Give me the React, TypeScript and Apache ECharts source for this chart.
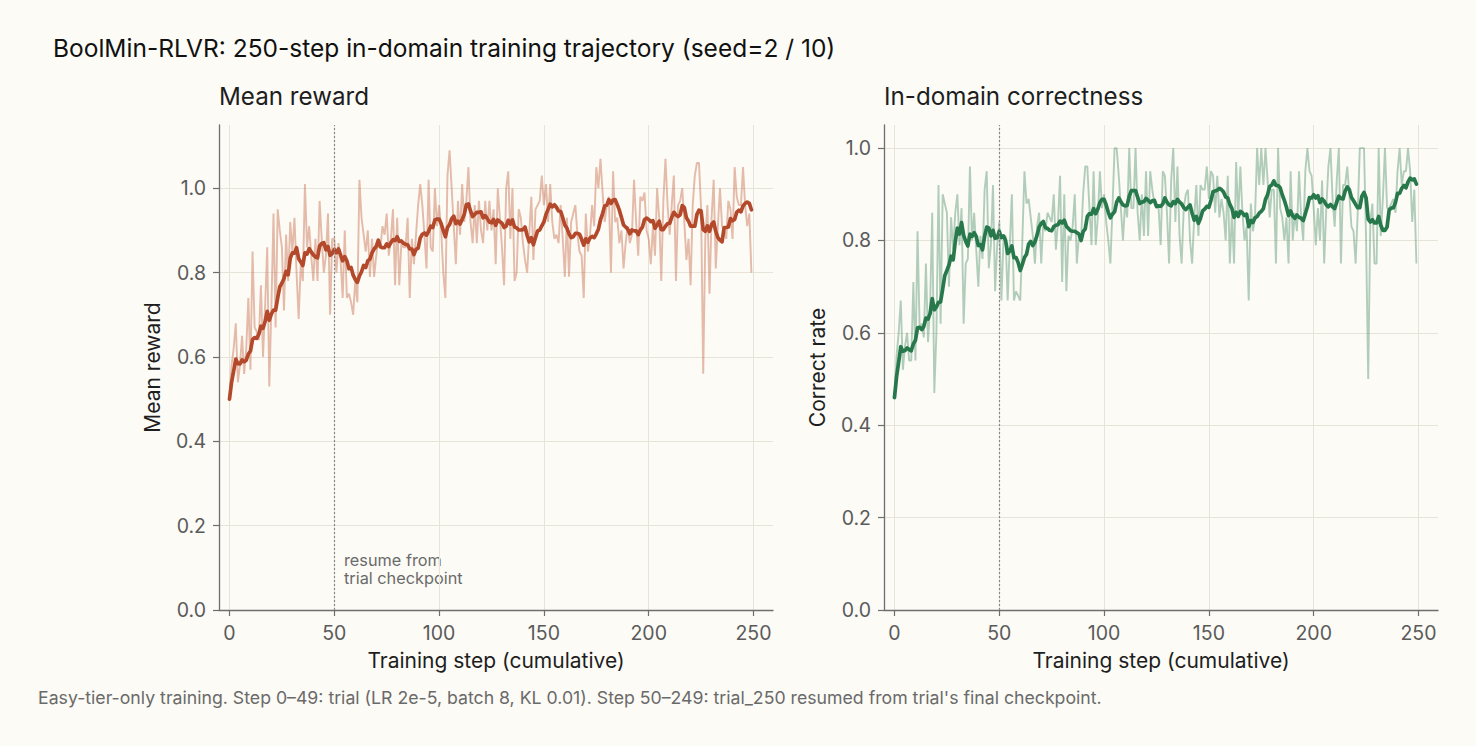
import React, { useEffect, useRef } from "react";
import * as echarts from "echarts";

// Per-step mean reward (raw, before smoothing)
const rewardRaw: number[] = [
  0.50, 0.58, 0.62, 0.68, 0.54, 0.58, 0.65, 0.56, 0.62, 0.74,
  0.57, 0.85, 0.67, 0.66, 0.64, 0.77, 0.60, 0.72, 0.86, 0.53,
  0.72, 0.94, 0.67, 0.95, 0.90, 0.86, 0.71, 0.89, 0.78, 0.92,
  0.85, 0.93, 0.80, 0.69, 0.82, 0.78, 1.01, 0.86, 0.91, 0.84,
  0.78, 0.88, 0.78, 0.97, 0.88, 0.80, 0.84, 0.94, 0.70, 0.88,
  0.88, 0.80, 0.87, 0.83, 0.74, 0.90, 0.74, 0.75, 0.73, 0.70,
  0.78, 0.73, 1.02, 0.93, 0.89, 0.85, 0.90, 0.79, 0.88, 0.79,
  0.84, 0.88, 0.86, 0.91, 0.89, 0.94, 0.84, 0.88, 0.95, 0.77,
  0.93, 0.77, 0.87, 0.86, 0.86, 0.93, 0.74, 0.88, 0.82, 0.89,
  0.96, 1.01, 0.96, 0.89, 0.81, 1.02, 0.86, 0.85, 1.00, 0.91,
  0.96, 0.90, 0.80, 0.74, 1.03, 1.09, 1.00, 0.91, 0.82, 0.97,
  0.89, 1.01, 0.92, 0.97, 1.05, 0.92, 0.87, 0.96, 0.87, 0.97,
  0.90, 0.87, 0.97, 0.90, 0.97, 0.90, 0.95, 0.82, 1.00, 0.93,
  0.86, 0.77, 1.00, 1.04, 0.88, 1.00, 0.78, 0.80, 0.95, 0.93,
  0.87, 0.83, 0.80, 0.89, 0.98, 0.83, 0.95, 0.96, 0.97, 1.03,
  0.96, 1.01, 0.92, 1.01, 0.92, 0.88, 0.89, 0.87, 0.96, 0.88,
  0.79, 0.93, 0.79, 0.92, 0.94, 0.96, 0.89, 0.85, 0.84, 0.74,
  0.94, 0.85, 0.89, 0.96, 0.91, 1.05, 1.00, 1.07, 0.99, 0.92,
  0.96, 0.98, 0.80, 1.04, 0.92, 0.93, 0.87, 0.90, 0.81, 0.87,
  0.91, 0.87, 0.89, 1.02, 0.92, 0.84, 0.98, 0.97, 0.99, 0.90,
  0.88, 0.82, 0.91, 0.84, 1.00, 0.93, 0.78, 0.97, 1.07, 0.96,
  0.89, 0.96, 1.03, 0.78, 0.96, 0.97, 1.00, 0.92, 0.83, 0.88,
  0.77, 0.96, 1.03, 1.06, 1.06, 0.95, 0.56, 0.88, 0.96, 0.75,
  0.93, 1.02, 0.81, 0.91, 1.00, 0.91, 0.90, 0.88, 0.97, 0.95,
  0.88, 1.05, 0.98, 0.96, 0.96, 1.05, 0.96, 0.91, 0.94, 0.80,
];

// Per-step in-domain correct rate (raw, before smoothing)
const correctRaw: number[] = [
  0.46, 0.55, 0.60, 0.67, 0.52, 0.57, 0.60, 0.54, 0.54, 0.71,
  0.54, 0.82, 0.61, 0.62, 0.59, 0.75, 0.58, 0.66, 0.86, 0.47,
  0.60, 0.92, 0.62, 0.90, 0.88, 0.86, 0.70, 0.85, 0.78, 0.86,
  0.90, 0.79, 0.87, 0.62, 0.75, 0.76, 0.96, 0.80, 0.86, 0.78,
  0.70, 0.81, 0.76, 0.91, 0.95, 0.74, 0.79, 0.92, 0.69, 0.79,
  0.84, 0.67, 0.80, 0.81, 0.67, 0.79, 0.90, 0.67, 0.69, 0.68,
  0.67, 0.80, 0.95, 0.88, 0.89, 0.85, 0.81, 0.75, 0.83, 0.86,
  0.75, 0.84, 0.82, 0.86, 0.85, 0.84, 0.90, 0.78, 0.84, 0.94,
  0.71, 0.90, 0.69, 0.81, 0.80, 0.83, 0.90, 0.75, 0.81, 0.80,
  0.90, 0.96, 0.96, 0.87, 0.79, 0.95, 0.79, 0.85, 0.95, 0.87,
  0.90, 0.84, 0.80, 0.75, 0.87, 1.00, 1.00, 0.94, 0.87, 0.80,
  0.88, 0.85, 1.00, 0.87, 0.87, 1.00, 0.86, 0.80, 0.90, 0.81,
  0.95, 0.81, 0.95, 0.91, 0.88, 0.87, 0.87, 0.79, 0.95, 0.94,
  0.86, 0.75, 0.93, 1.00, 0.84, 0.96, 0.81, 0.75, 0.87, 0.90,
  0.91, 0.80, 0.75, 0.85, 0.92, 0.81, 0.92, 0.91, 0.91, 0.96,
  0.89, 0.95, 0.94, 0.86, 0.94, 0.85, 0.89, 0.86, 0.80, 0.94,
  0.75, 0.86, 0.75, 0.97, 0.85, 0.96, 0.86, 0.80, 0.83, 0.67,
  0.88, 0.82, 0.85, 1.00, 0.92, 1.00, 0.92, 1.00, 0.93, 0.85,
  0.91, 0.91, 0.75, 1.00, 0.87, 0.85, 0.80, 0.85, 0.75, 0.95,
  0.80, 0.86, 0.82, 0.95, 0.85, 0.80, 0.95, 1.00, 0.95, 0.94,
  0.87, 0.79, 0.87, 0.80, 0.93, 0.75, 0.87, 0.96, 1.00, 0.89,
  0.83, 0.93, 1.00, 0.75, 0.92, 0.92, 0.96, 0.90, 0.83, 0.82,
  0.75, 0.86, 1.00, 1.00, 1.00, 0.80, 0.50, 0.84, 0.88, 0.75,
  0.75, 1.00, 0.81, 0.89, 1.00, 0.87, 0.87, 0.88, 0.89, 0.86,
  0.95, 1.00, 0.92, 0.95, 0.95, 1.00, 0.95, 0.84, 0.91, 0.75,
];

const xTicks: number[] = [0, 50, 100, 150, 200, 250];
const yTicks: number[] = [0, 0.2, 0.4, 0.6, 0.8, 1.0];
const resumeStep = 50;
const smoothWindow = 10;

const TITLE = "BoolMin-RLVR: 250-step in-domain training trajectory (seed=2 / 10)";
const FOOTNOTE =
  "Easy-tier-only training. Step 0\u201349: trial (LR 2e-5, batch 8, KL 0.01). Step 50\u2013249: trial_250 resumed from trial's final checkpoint.";

const FONT = "Inter, 'Liberation Sans', Arial, sans-serif";
const BG = "#FCFBF6";
const GRID_LINE = "#E7E3D9";
const AXIS = "#6E6E6E";
const TICK_TEXT = "#5A5A5A";

// Trailing rolling mean (partial windows at the start)
function rollingMean(values: number[], win: number): number[] {
  return values.map((_, i) => {
    const start = Math.max(0, i - win + 1);
    let sum = 0;
    for (let k = start; k <= i; k++) sum += values[k];
    return sum / (i - start + 1);
  });
}

function toPairs(values: number[]): [number, number][] {
  return values.map((v, i) => [i, v]);
}

function xAxisFor(gridIndex: number) {
  return {
    type: "value",
    gridIndex,
    min: -5,
    max: 259.3,
    name: "Training step (cumulative)",
    nameLocation: "middle",
    nameGap: 40,
    nameTextStyle: { fontSize: 21, color: "#1E1E1E", fontFamily: FONT },
    axisLine: { show: true, onZero: false, lineStyle: { color: AXIS, width: 1.3 } },
    axisTick: {
      show: true,
      inside: false,
      length: 6,
      customValues: xTicks,
      lineStyle: { color: AXIS, width: 1.2 },
    },
    axisLabel: {
      customValues: xTicks,
      fontSize: 19.5,
      color: TICK_TEXT,
      margin: 13,
      fontFamily: FONT,
    },
    splitLine: { show: true, lineStyle: { color: GRID_LINE, width: 1 } },
  };
}

function yAxisFor(gridIndex: number, max: number, name: string) {
  return {
    type: "value",
    gridIndex,
    min: 0,
    max,
    name,
    nameLocation: "middle",
    nameGap: 56,
    nameTextStyle: { fontSize: 21, color: "#1E1E1E", fontFamily: FONT },
    axisLine: { show: true, onZero: false, lineStyle: { color: AXIS, width: 1.3 } },
    axisTick: {
      show: true,
      inside: false,
      length: 6,
      customValues: yTicks,
      lineStyle: { color: AXIS, width: 1.2 },
    },
    axisLabel: {
      customValues: yTicks,
      fontSize: 19.5,
      color: TICK_TEXT,
      margin: 13,
      fontFamily: FONT,
      formatter: (v: number) => v.toFixed(1),
    },
    splitLine: { show: true, lineStyle: { color: GRID_LINE, width: 1 } },
  };
}

function rawSeries(idx: number, values: number[], color: string, withMarker: boolean) {
  return {
    type: "line",
    xAxisIndex: idx,
    yAxisIndex: idx,
    data: toPairs(values),
    showSymbol: false,
    symbol: "none",
    lineStyle: { color, width: 1.9 },
    z: 2,
    markLine: withMarker
      ? {
          silent: true,
          symbol: ["none", "none"],
          label: { show: false },
          lineStyle: { color: "#8A8A8A", type: [2, 2], width: 1.2 },
          data: [{ xAxis: resumeStep }],
        }
      : undefined,
  };
}

function smoothSeries(idx: number, values: number[], color: string) {
  return {
    type: "line",
    xAxisIndex: idx,
    yAxisIndex: idx,
    data: toPairs(rollingMean(values, smoothWindow)),
    showSymbol: false,
    symbol: "none",
    lineStyle: { color, width: 3.7, cap: "round", join: "round" },
    z: 3,
  };
}

export default function App() {
  const ref = useRef<HTMLDivElement>(null);

  useEffect(() => {
    if (!ref.current) return;
    const chart = echarts.init(ref.current, undefined, { renderer: "svg" });
    chart.setOption({
      animation: false,
      backgroundColor: BG,
      textStyle: { fontFamily: FONT },
      title: [
        {
          text: TITLE,
          left: 53,
          top: 35,
          padding: 0,
          textStyle: { fontSize: 24.5, fontWeight: "normal", color: "#111111", fontFamily: FONT },
        },
        {
          text: "Mean reward",
          left: 219,
          top: 84,
          padding: 0,
          textStyle: { fontSize: 24.2, fontWeight: "normal", color: "#1E1E1E", fontFamily: FONT },
        },
        {
          text: "In-domain correctness",
          left: 884,
          top: 84,
          padding: 0,
          textStyle: { fontSize: 24.2, fontWeight: "normal", color: "#1E1E1E", fontFamily: FONT },
        },
      ],
      grid: [
        { left: 219, top: 125, width: 554, height: 485, containLabel: false },
        { left: 884, top: 125, width: 554, height: 485, containLabel: false },
      ],
      xAxis: [xAxisFor(0), xAxisFor(1)],
      yAxis: [yAxisFor(0, 1.15, "Mean reward"), yAxisFor(1, 1.05, "Correct rate")],
      series: [
        rawSeries(0, rewardRaw, "rgba(196, 96, 62, 0.42)", true),
        smoothSeries(0, rewardRaw, "#B3482A"),
        rawSeries(1, correctRaw, "rgba(64, 138, 98, 0.40)", true),
        smoothSeries(1, correctRaw, "#27784A"),
      ],
      graphic: [
        {
          type: "text",
          left: 344,
          top: 551,
          style: {
            text: "resume from\ntrial checkpoint",
            fontSize: 16.3,
            lineHeight: 18,
            fill: "#6A6A6A",
            fontFamily: FONT,
          },
        },
        {
          type: "text",
          left: 38,
          top: 688,
          style: {
            text: FOOTNOTE,
            fontSize: 17.7,
            fill: "#6A6A6A",
            fontFamily: FONT,
          },
        },
      ],
    });
    return () => chart.dispose();
  }, []);

  return (
    <div
      ref={ref}
      style={{ position: "fixed", left: 0, top: 0, width: 1476, height: 746, background: BG }}
    />
  );
}
